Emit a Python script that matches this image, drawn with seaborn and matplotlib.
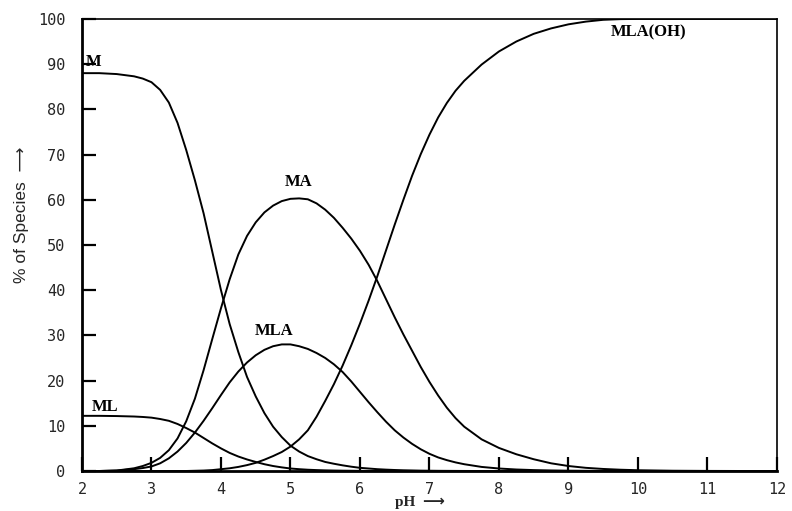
import numpy as np
import pandas as pd
import seaborn as sns
import matplotlib.pyplot as plt

ph = [2.0, 2.25, 2.5, 2.75,
      2.875, 3.0, 3.125, 3.25, 3.375, 3.5, 3.625, 3.75, 3.875, 4.0,
      4.125, 4.25, 4.375, 4.5, 4.625, 4.75, 4.875, 5.0, 5.125, 5.25,
      5.375, 5.5, 5.625, 5.75, 5.875, 6.0, 6.125, 6.25, 6.375, 6.5,
      6.625, 6.75, 6.875, 7.0, 7.125, 7.25, 7.375, 7.5,
      7.75, 8.0, 8.25, 8.5, 8.75, 9.0, 9.25, 9.5, 9.75, 10.0,
      10.5, 11.0, 11.5, 12.0]

m = [88.0, 88.0, 87.8, 87.3,
     86.8, 86.0, 84.3, 81.5, 77.0, 71.0, 64.3, 57.0, 48.5, 40.0,
     32.5, 26.3, 20.8, 16.5, 12.8, 9.8, 7.5, 5.6, 4.3, 3.3,
     2.6, 2.0, 1.6, 1.25, 0.95, 0.7, 0.55, 0.4, 0.3, 0.22,
     0.16, 0.12, 0.08, 0.06, 0.04, 0.03, 0.02, 0.01,
     0, 0, 0, 0, 0, 0, 0, 0, 0, 0,
     0, 0, 0, 0]

ml = [12.2, 12.2, 12.15, 12.05,
      11.95, 11.8, 11.5, 11.1, 10.4, 9.5, 8.5, 7.3, 6.1, 5.0,
      4.0, 3.2, 2.55, 2.0, 1.5, 1.1, 0.8, 0.55, 0.4, 0.28,
      0.2, 0.14, 0.1, 0.07, 0.05, 0.03, 0.02, 0.01, 0, 0,
      0, 0, 0, 0, 0, 0, 0, 0,
      0, 0, 0, 0, 0, 0, 0, 0, 0, 0,
      0, 0, 0, 0]

ma = [0, 0, 0.1, 0.6,
      1.1, 1.8, 2.9, 4.6, 7.2, 11.0, 16.0, 22.3, 29.2, 36.0,
      42.4, 47.9, 52.0, 55.0, 57.2, 58.7, 59.7, 60.2, 60.3, 60.1,
      59.2, 57.8, 56.0, 53.8, 51.4, 48.7, 45.6, 42.0, 38.0, 34.0,
      30.2, 26.6, 23.0, 19.7, 16.7, 14.0, 11.7, 9.8,
      7.0, 5.1, 3.7, 2.6, 1.7, 1.1, 0.7, 0.45, 0.28, 0.17,
      0.06, 0.02, 0, 0]

mla = [0, 0, 0.1, 0.4,
       0.65, 1.0, 1.7, 2.8, 4.3, 6.2, 8.5, 11.1, 13.9, 16.8,
       19.6, 22.0, 24.0, 25.6, 26.8, 27.6, 28.0, 28.0, 27.6, 27.0,
       26.1, 25.0, 23.6, 21.9, 19.8, 17.5, 15.2, 13.0, 10.9, 9.0,
       7.4, 6.0, 4.8, 3.8, 3.0, 2.4, 1.9, 1.5,
       0.9, 0.55, 0.33, 0.2, 0.12, 0.07, 0.04, 0.02, 0.01, 0,
       0, 0, 0, 0]

mla_oh = [0, 0, 0, 0,
          0, 0, 0, 0, 0, 0, 0.05, 0.1, 0.2, 0.4,
          0.6, 0.9, 1.3, 1.8, 2.5, 3.3, 4.2, 5.4, 7.0, 9.0,
          12.0, 15.5, 19.2, 23.3, 27.8, 32.6, 37.7, 43.1, 48.8, 54.5,
          60.0, 65.3, 70.1, 74.4, 78.2, 81.4, 84.1, 86.3,
          89.9, 92.8, 95.0, 96.7, 97.9, 98.8, 99.4, 99.8, 99.95, 100.0,
          100.0, 100.0, 100.0, 100.0]

species = ["M", "ML", "MA", "MLA", "MLA(OH)"]

df = pd.DataFrame({"pH": ph, "M": m, "ML": ml, "MA": ma, "MLA": mla, "MLA(OH)": mla_oh})
long = df.melt(id_vars="pH", var_name="species", value_name="pct")

sns.set_style("ticks")

fig = plt.figure(figsize=(7.92, 5.11), dpi=100)
ax = fig.add_axes([0.1035, 0.0783, 0.8775, 0.8847])

sns.lineplot(data=long, x="pH", y="pct", hue="species", hue_order=species,
             palette=["black"] * len(species), linewidth=1.4, legend=False,
             sort=False, ax=ax)

ax.set_xlim(2, 12)
ax.set_ylim(0, 100)
ax.set_xticks(range(2, 13))
ax.set_yticks(range(0, 101, 10))
ax.set_xlabel("")
ax.set_ylabel("")

ax.tick_params(direction="in", length=10, width=1.6, color="black", labelsize=11)
ax.tick_params(axis="y", pad=12)
ax.tick_params(axis="x", pad=8)
for lab in ax.get_xticklabels() + ax.get_yticklabels():
    lab.set_family("DejaVu Sans Mono")

for side in ["left", "bottom"]:
    ax.spines[side].set_linewidth(2.0)
for side in ["top", "right"]:
    ax.spines[side].set_linewidth(1.2)
for s in ax.spines.values():
    s.set_color("black")

# curve labels
lab_kw = dict(family="Liberation Serif", fontweight="bold", fontsize=12, color="black")
ax.text(2.05, 90.5, "M", ha="left", va="center", **lab_kw)
ax.text(2.14, 14.2, "ML", ha="left", va="center", **lab_kw)
ax.text(5.11, 64.0, "MA", ha="center", va="center", **lab_kw)
ax.text(4.76, 31.0, "MLA", ha="center", va="center", **lab_kw)
ax.text(10.15, 97.0, "MLA(OH)", ha="center", va="center", **lab_kw)

fig.text(0.027, 0.58, "% of Species  \u27f6", rotation=90, ha="center", va="center",
         family=["Liberation Sans", "DejaVu Sans"], fontsize=12.5)
fig.text(0.53, 0.004, "pH  \u27f6", ha="center", va="bottom",
         family=["Liberation Serif", "DejaVu Sans"], fontweight="bold", fontsize=11)

fig.savefig("out.png", dpi=100)
